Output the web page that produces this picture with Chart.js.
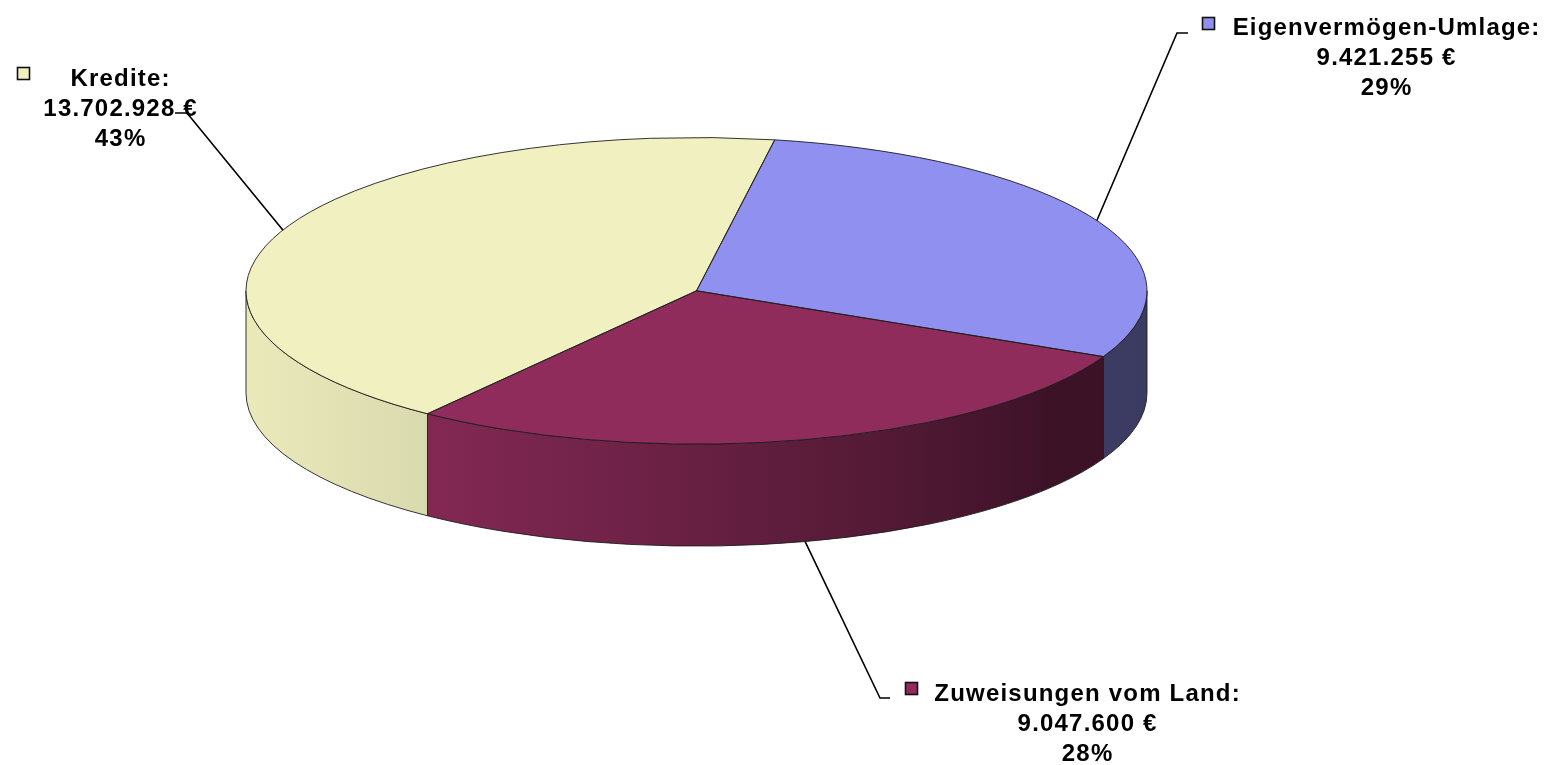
<!DOCTYPE html>
<html>
<head>
<meta charset="utf-8">
<script src="https://cdn.jsdelivr.net/npm/chart.js@4"></script>
<style>
  html, body { margin: 0; padding: 0; background: #fff; overflow: hidden; }
  #wrap { width: 1548px; height: 765px; }
</style>
</head>
<body>
<div id="wrap"><canvas id="pie" width="1548" height="765"></canvas></div>
<script>
// data
const categories = ['Eigenvermögen-Umlage', 'Zuweisungen vom Land', 'Kredite'];
const amounts = [9421255, 9047600, 13702928];
const sliceColors = ['#9090F0', '#902C5C', '#F0F0C0'];

// ellipse geometry of the tilted pie (screen px)
const CX = 696.5, CY = 290.8, RX = 450.5, RY = 153.3, DEPTH = 102;

// where the leader lines and labels sit
const labelLayout = [
  { elbow: [1177, 33], end: [1188, 33], box: [1202, 17], textX: 1386, baseY: 35 },
  { elbow: [880, 698], end: [890, 698], box: [905, 682], textX: 1087, baseY: 701 },
  { elbow: [187, 113], end: [175, 113], box: [17, 67], textX: 120, baseY: 86 }
];

const total = amounts.reduce((a, b) => a + b, 0);
const fmtEuro = v => String(v).replace(/\B(?=(\d{3})+(?!\d))/g, '.') + ' €';

function hexToRgb(h) {
  const n = parseInt(h.slice(1), 16);
  return [(n >> 16) & 255, (n >> 8) & 255, n & 255];
}
function shade(h, f) {
  const [r, g, b] = hexToRgb(h);
  return `rgb(${Math.round(r * f)},${Math.round(g * f)},${Math.round(b * f)})`;
}

// shading across the side wall, left (light) to right (dark)
const wallShade = [[0, 0.97], [0.2, 0.91], [0.5, 0.72], [0.75, 0.55], [0.9, 0.42], [1, 0.41]];

// visible (front) parts of an arc: canvas angles in [0, PI] (+2k PI)
function frontParts(a0, a1) {
  const out = [];
  for (let k = -1; k <= 2; k++) {
    const s = Math.max(a0, 2 * Math.PI * k), e = Math.min(a1, 2 * Math.PI * k + Math.PI);
    if (e > s) out.push([s, e]);
  }
  return out;
}

function wallPath(ctx, s, e) {
  ctx.beginPath();
  ctx.ellipse(CX, CY, RX, RY, 0, s, e);
  ctx.lineTo(CX + RX * Math.cos(e), CY + DEPTH + RY * Math.sin(e));
  ctx.ellipse(CX, CY + DEPTH, RX, RY, 0, e, s, true);
  ctx.closePath();
}

const pie3d = {
  id: 'pie3d',
  beforeDatasetsDraw(chart) {
    const ctx = chart.ctx;
    const arcs = chart.getDatasetMeta(0).data;
    ctx.save();
    // side walls
    arcs.forEach((arc, i) => {
      frontParts(arc.startAngle, arc.endAngle).forEach(([s, e]) => {
        const g = ctx.createLinearGradient(CX - RX, 0, CX + RX, 0);
        wallShade.forEach(([u, f]) => g.addColorStop(u, shade(sliceColors[i], f)));
        wallPath(ctx, s, e);
        ctx.fillStyle = g;
        ctx.fill();
        ctx.strokeStyle = 'rgba(30,30,30,0.9)';
        ctx.lineWidth = 1;
        ctx.stroke();
      });
    });
    // squash the library's circle into the ellipse
    const a = arcs[0];
    ctx.translate(CX, CY);
    ctx.scale(RX / a.outerRadius, RY / a.outerRadius);
    ctx.translate(-a.x, -a.y);
  },
  afterDatasetsDraw(chart) {
    const ctx = chart.ctx;
    ctx.restore();
    const arcs = chart.getDatasetMeta(0).data;
    ctx.save();
    ctx.strokeStyle = 'rgba(30,30,30,0.9)';
    ctx.lineWidth = 1;
    arcs.forEach(arc => {
      ctx.beginPath();
      ctx.moveTo(CX, CY);
      ctx.ellipse(CX, CY, RX, RY, 0, arc.startAngle, arc.endAngle);
      ctx.closePath();
      ctx.stroke();
    });
    ctx.restore();
  },
  afterDraw(chart) {
    const ctx = chart.ctx;
    const arcs = chart.getDatasetMeta(0).data;
    ctx.save();
    arcs.forEach((arc, i) => {
      const L = labelLayout[i];
      const m = (arc.startAngle + arc.endAngle) / 2;
      let sx = CX + RX * Math.cos(m), sy = CY + RY * Math.sin(m);
      if (Math.sin(m) > 0) sy += DEPTH;
      // leader line
      ctx.strokeStyle = '#000';
      ctx.lineWidth = 1.6;
      ctx.beginPath();
      ctx.moveTo(sx, sy);
      ctx.lineTo(L.elbow[0], L.elbow[1]);
      ctx.lineTo(L.end[0], L.end[1]);
      ctx.stroke();
      // legend key
      ctx.fillStyle = sliceColors[i];
      ctx.fillRect(L.box[0], L.box[1], 13, 13);
      ctx.strokeStyle = '#111';
      ctx.lineWidth = 1.6;
      ctx.strokeRect(L.box[0] + 0.5, L.box[1] + 0.5, 12, 12);
      // text
      const pct = Math.round(amounts[i] / total * 100) + '%';
      const lines = [categories[i] + ':', fmtEuro(amounts[i]), pct];
      ctx.fillStyle = '#000';
      ctx.font = 'bold 24px "Liberation Sans", Arial, sans-serif';
      ctx.letterSpacing = '1.2px';
      ctx.textAlign = 'center';
      ctx.textBaseline = 'alphabetic';
      lines.forEach((t, j) => ctx.fillText(t, L.textX + 0.6, L.baseY + j * 30));
    });
    ctx.restore();
  }
};

new Chart(document.getElementById('pie').getContext('2d'), {
  type: 'pie',
  data: {
    labels: categories,
    datasets: [{
      data: amounts,
      backgroundColor: sliceColors,
      borderWidth: 0
    }]
  },
  options: {
    responsive: false,
    animation: false,
    rotation: 10,
    layout: { padding: 0 },
    plugins: {
      legend: { display: false },
      tooltip: { enabled: false }
    }
  },
  plugins: [pie3d]
});
</script>
</body>
</html>
